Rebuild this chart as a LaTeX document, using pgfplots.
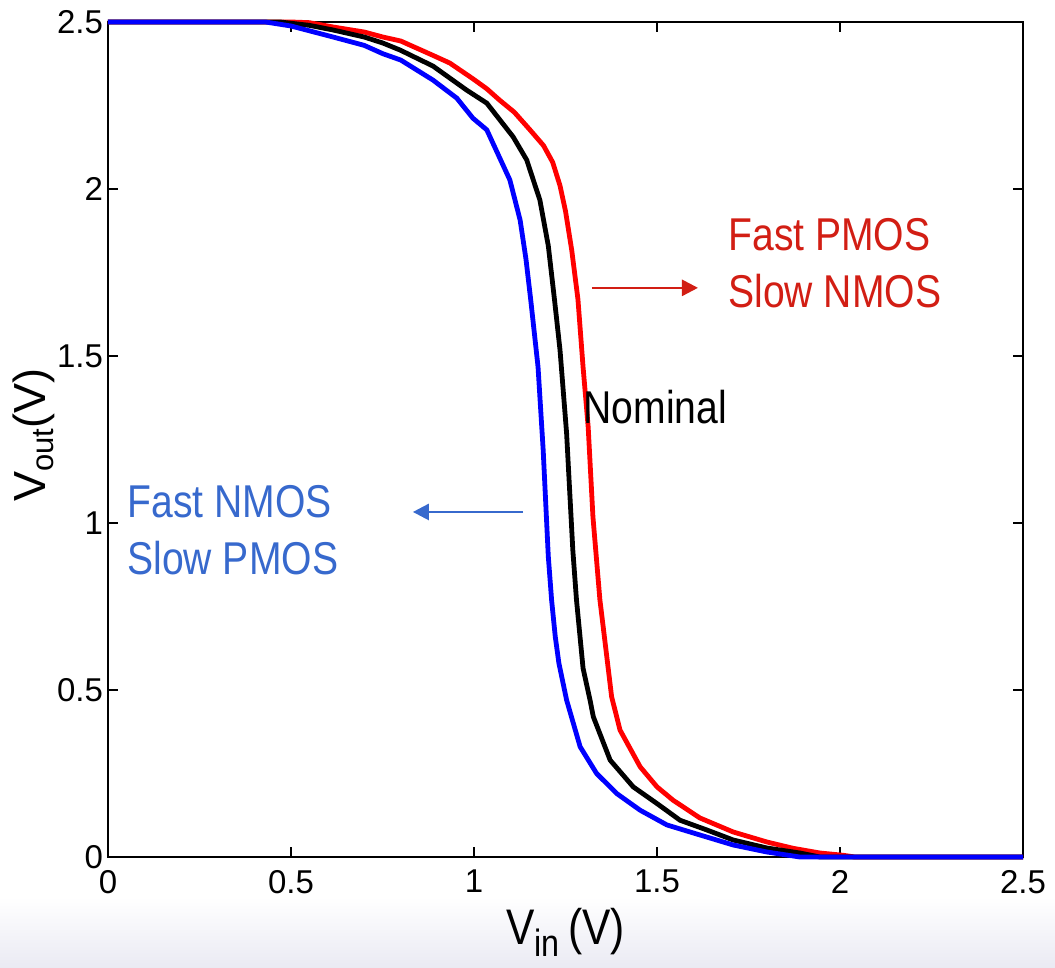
\documentclass[border=0pt]{standalone}
\usepackage{fontspec}
\setmainfont{Liberation Sans}
\newfontfamily\narrow[FakeStretch=0.85]{Liberation Sans}
\usepackage{pgfplots}
\pgfplotsset{compat=1.18}
\usetikzlibrary{arrows.meta}
\definecolor{annred}{RGB}{210,30,20}
\definecolor{annblue}{RGB}{55,105,205}
\definecolor{bgbot}{RGB}{234,234,243}

\pgfplotstableread{
x y
0 2.5
0.50 2.5
0.55 2.498
0.615 2.485
0.70 2.47
0.751 2.455
0.80 2.443
0.888 2.40
0.934 2.377
0.997 2.33
1.035 2.30
1.07 2.266
1.11 2.23
1.153 2.177
1.19 2.13
1.215 2.08
1.235 2.01
1.25 1.934
1.267 1.817
1.284 1.67
1.298 1.467
1.312 1.287
1.325 1.018
1.344 0.77
1.353 0.689
1.376 0.48
1.399 0.38
1.454 0.27
1.50 0.21
1.544 0.17
1.617 0.117
1.708 0.075
1.80 0.045
1.872 0.026
1.945 0.012
2.01 0.005
2.04 0
2.5 0
}\redcurve

\pgfplotstableread{
x y
0 2.5
0.47 2.5
0.55 2.49
0.615 2.476
0.70 2.455
0.751 2.437
0.798 2.416
0.888 2.368
0.98 2.296
1.035 2.257
1.107 2.156
1.144 2.087
1.18 1.967
1.203 1.83
1.22 1.668
1.235 1.518
1.253 1.269
1.27 0.919
1.28 0.77
1.298 0.565
1.317 0.47
1.326 0.42
1.372 0.29
1.435 0.21
1.50 0.16
1.563 0.11
1.636 0.081
1.708 0.051
1.80 0.027
1.89 0.012
1.945 0
2.5 0
}\blackcurve

\pgfplotstableread{
x y
0 2.5
0.43 2.5
0.50 2.488
0.615 2.455
0.70 2.43
0.751 2.405
0.80 2.386
0.888 2.326
0.953 2.272
0.997 2.212
1.035 2.177
1.098 2.027
1.126 1.907
1.142 1.79
1.155 1.668
1.175 1.467
1.189 1.219
1.203 0.90
1.212 0.77
1.222 0.66
1.232 0.58
1.253 0.47
1.29 0.33
1.335 0.25
1.39 0.19
1.454 0.14
1.527 0.096
1.617 0.066
1.708 0.036
1.80 0.015
1.89 0
2.5 0
}\bluecurve

\begin{document}
\begin{tikzpicture}[x=1pt,y=1pt]
\useasboundingbox (-54,-55.5) rectangle (473.5,428.5);
\shade[top color=white, bottom color=bgbot] (-54,-55.5) rectangle (473.5,-20);
\begin{axis}[
  at={(0,0)}, anchor=south west,
  scale only axis, width=457.5pt, height=417.5pt,
  xmin=0, xmax=2.5, ymin=0, ymax=2.5,
  xtick={0,0.5,1,1.5,2,2.5}, ytick={0,0.5,1,1.5,2,2.5},
  tick align=inside, major tick length=5pt,
  axis line style={line width=0.6pt},
  tick style={black, line width=0.6pt},
  /pgf/number format/assume math mode=true,
  ticklabel style={font=\fontsize{16.5}{16.5}\selectfont},
  xticklabel style={yshift=-3pt},
  yticklabel style={xshift=1pt},
  xlabel={\narrow V\raisebox{-0.45ex}{\fontsize{19}{19}\selectfont in}\,(V)},
  xlabel style={font=\fontsize{25}{25}\selectfont, at={(axis description cs:0.5,0)}, anchor=base, yshift=-44pt},
  ylabel={V\raisebox{-0.35ex}{\fontsize{15.5}{15.5}\selectfont out}(V)},
  ylabel style={font=\fontsize{22.5}{22.5}\selectfont, at={([xshift=-37pt]axis description cs:0,0.505)}, anchor=center},
  clip=false,
]
\addplot[red, line width=2.4pt, line join=round] table[x=x,y=y] {\redcurve};
\addplot[black, line width=2.4pt, line join=round] table[x=x,y=y] {\blackcurve};
\addplot[blue, line width=2.4pt, line join=round] table[x=x,y=y] {\bluecurve};

\draw[annred, line width=1.3pt, -{Triangle[length=8pt,width=8pt]}] (axis cs:1.322,1.704) -- (axis cs:1.612,1.704);
\draw[annblue, line width=1.3pt, -{Triangle[length=8pt,width=8pt]}] (axis cs:1.134,1.033) -- (axis cs:0.833,1.033);

\node[anchor=west, align=left, text=annred, inner sep=0pt, font=\narrow\fontsize{23}{28.5}\selectfont] at (axis cs:1.694,1.777) {Fast PMOS\\Slow NMOS};
\node[anchor=west, align=left, text=black, inner sep=0pt, font=\narrow\fontsize{23}{28.5}\selectfont] at (axis cs:1.298,1.347) {Nominal};
\node[anchor=west, align=left, text=annblue, inner sep=0pt, font=\narrow\fontsize{23}{28.5}\selectfont] at (axis cs:0.052,0.979) {Fast NMOS\\Slow PMOS};
\end{axis}
\end{tikzpicture}
\end{document}
